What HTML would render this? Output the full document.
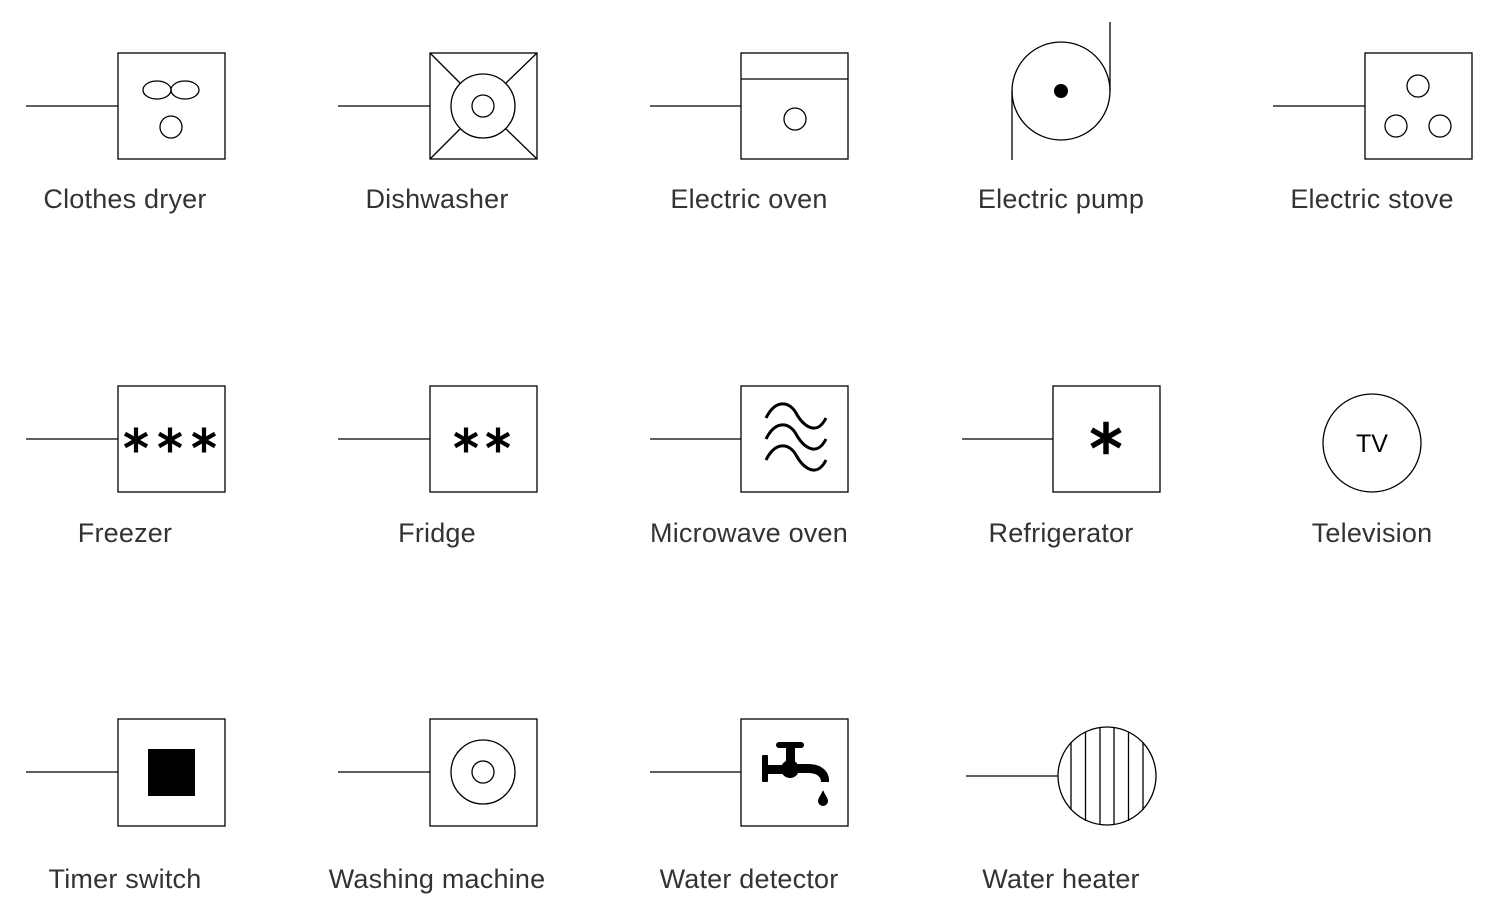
<!DOCTYPE html>
<html><head><meta charset="utf-8"><style>
html,body{margin:0;padding:0;background:#fff;}
svg{display:block}
text{font-family:"Liberation Sans",sans-serif;fill:#333;}
</style></head><body>
<svg width="1500" height="920" viewBox="0 0 1500 920" xmlns="http://www.w3.org/2000/svg">
<defs>
<g id="ast"><g stroke="#000" stroke-width="4.2" stroke-linecap="butt">
<line x1="0" y1="-12.5" x2="0" y2="12.5"/><line x1="-11" y1="-6.3" x2="11" y2="6.3"/><line x1="11" y1="-6.3" x2="-11" y2="6.3"/></g></g>
</defs>
<g fill="none" stroke="#000" stroke-width="1.3">
<line x1="26" y1="106" x2="118" y2="106"/><rect x="118" y="53" width="107" height="106"/>
<ellipse cx="157" cy="90" rx="14" ry="9"/><ellipse cx="185" cy="90" rx="14" ry="9"/><circle cx="171" cy="127" r="11"/>
<line x1="338" y1="106" x2="430" y2="106"/><rect x="430" y="53" width="107" height="106"/>
<line x1="430" y1="53" x2="460" y2="83"/><line x1="537" y1="53" x2="506" y2="83"/><line x1="430" y1="159" x2="460" y2="129"/><line x1="537" y1="159" x2="506" y2="129"/>
<circle cx="483" cy="106" r="32"/><circle cx="483" cy="106" r="11"/>
<line x1="650" y1="106" x2="741" y2="106"/><rect x="741" y="53" width="107" height="106"/><line x1="741" y1="79" x2="848" y2="79"/><circle cx="795" cy="119" r="11"/>
<circle cx="1061" cy="91" r="49"/><line x1="1012" y1="91" x2="1012" y2="160"/><line x1="1110" y1="22" x2="1110" y2="91"/>
<line x1="1273" y1="106" x2="1365" y2="106"/><rect x="1365" y="53" width="107" height="106"/>
<circle cx="1418" cy="86" r="11"/><circle cx="1396" cy="126" r="11"/><circle cx="1440" cy="126" r="11"/>
<line x1="26" y1="439" x2="118" y2="439"/><rect x="118" y="386" width="107" height="106"/>
<line x1="338" y1="439" x2="430" y2="439"/><rect x="430" y="386" width="107" height="106"/>
<line x1="650" y1="439" x2="741" y2="439"/><rect x="741" y="386" width="107" height="106"/>
<line x1="962" y1="439" x2="1053" y2="439"/><rect x="1053" y="386" width="107" height="106"/>
<circle cx="1372" cy="443" r="49"/>
<line x1="26" y1="772" x2="118" y2="772"/><rect x="118" y="719" width="107" height="107"/>
<line x1="338" y1="772" x2="430" y2="772"/><rect x="430" y="719" width="107" height="107"/>
<circle cx="483" cy="772" r="32"/><circle cx="483" cy="772" r="11"/>
<line x1="650" y1="772" x2="741" y2="772"/><rect x="741" y="719" width="107" height="107"/>
<line x1="966" y1="776" x2="1058" y2="776"/><circle cx="1107" cy="776" r="49"/>
<line x1="1071" y1="742" x2="1071" y2="810"/><line x1="1085.5" y1="732" x2="1085.5" y2="821"/><line x1="1100" y1="728" x2="1100" y2="825"/><line x1="1114" y1="728" x2="1114" y2="825"/><line x1="1128.5" y1="732" x2="1128.5" y2="821"/><line x1="1143" y1="742" x2="1143" y2="810"/>
</g>
<g fill="none" stroke="#000" stroke-width="3">
<path d="M766 418 C776 398,790 402,796 413 C802 424,816 438,826 418"/>
<path d="M766 439 C776 419,790 423,796 434 C802 445,816 459,826 439"/>
<path d="M766 460 C776 440,790 444,796 455 C802 466,816 480,826 460"/>
</g>
<circle cx="1061" cy="91" r="7" fill="#000"/>
<use href="#ast" x="136" y="440"/><use href="#ast" x="170" y="440"/><use href="#ast" x="204" y="440"/>
<use href="#ast" x="466" y="440"/><use href="#ast" x="498" y="440"/>
<g transform="translate(1106,438) scale(1.3)"><use href="#ast"/></g>
<rect x="148" y="749" width="47" height="47" fill="#000"/>
<g fill="#000">
<rect x="776" y="742" width="28" height="6" rx="3"/>
<rect x="786" y="746" width="9" height="22"/>
<rect x="762" y="755" width="6" height="27" rx="1"/>
<rect x="762" y="765" width="30" height="9"/>
<circle cx="790" cy="769" r="9"/>
<path d="M790 764 L808 764 C822 764,830 772,829 782 L821 782 C821 776,816 773,808 773 L790 773 Z"/>
<path d="M823 790 C821 795,818 798,818 801 A5 5 0 0 0 828 801 C828 798,825 795,823 790 Z"/>
</g>
<text x="1372" y="452" font-size="25" text-anchor="middle" style="fill:#000">TV</text>
<g font-size="27" text-anchor="middle" style="letter-spacing:0.2px">
<text x="125" y="208">Clothes dryer</text><text x="437" y="208">Dishwasher</text><text x="749" y="208">Electric oven</text><text x="1061" y="208">Electric pump</text><text x="1372" y="208">Electric stove</text>
<text x="125" y="542">Freezer</text><text x="437" y="542">Fridge</text><text x="749" y="542">Microwave oven</text><text x="1061" y="542">Refrigerator</text><text x="1372" y="542">Television</text>
<text x="125" y="888">Timer switch</text><text x="437" y="888">Washing machine</text><text x="749" y="888">Water detector</text><text x="1061" y="888">Water heater</text>
</g>
</svg>
</body></html>
